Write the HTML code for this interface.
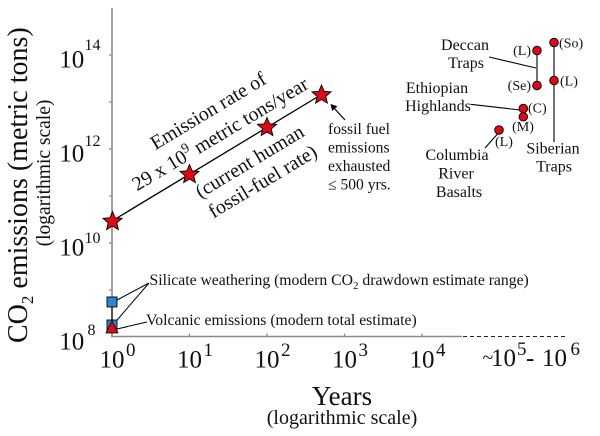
<!DOCTYPE html>
<html>
<head>
<meta charset="utf-8">
<style>
  html,body{margin:0;padding:0;background:#fff;}
  svg{display:block;}
  text{font-family:"Liberation Serif","DejaVu Serif",serif;fill:#111;}
</style>
</head>
<body>
<svg width="600" height="436" viewBox="0 0 600 436" xmlns="http://www.w3.org/2000/svg">
  <rect width="600" height="436" fill="#fff"/>

  <!-- Axes -->
  <line x1="112" y1="8" x2="112" y2="337.3" stroke="#8a8a8a" stroke-width="1.6"/>
  <line x1="111.2" y1="336.5" x2="462" y2="336.5" stroke="#8a8a8a" stroke-width="1.6"/>
  <line x1="463" y1="336.5" x2="567" y2="336.5" stroke="#222" stroke-width="1" stroke-dasharray="4 3"/>

  <!-- Y ticks -->
  <g stroke="#8a8a8a" stroke-width="1.2">
    <line x1="109" y1="55" x2="112" y2="55"/>
    <line x1="109" y1="102" x2="112" y2="102"/>
    <line x1="109" y1="149" x2="112" y2="149"/>
    <line x1="109" y1="196" x2="112" y2="196"/>
    <line x1="109" y1="243" x2="112" y2="243"/>
    <line x1="109" y1="290" x2="112" y2="290"/>
  </g>
  <!-- X ticks -->
  <g stroke="#8a8a8a" stroke-width="1.2">
    <line x1="189.5" y1="333.5" x2="189.5" y2="336"/>
    <line x1="267" y1="333.5" x2="267" y2="336"/>
    <line x1="344.5" y1="333.5" x2="344.5" y2="336"/>
    <line x1="422" y1="333.5" x2="422" y2="336"/>
  </g>

  <!-- Y tick labels -->
  <g font-size="25">
    <text x="59.3" y="67.5">10</text>
    <text x="59.3" y="161.5">10</text>
    <text x="59.3" y="255.5">10</text>
    <text x="59.3" y="349.5">10</text>
  </g>
  <g font-size="16">
    <text x="84.5" y="50">14</text>
    <text x="84.5" y="146">12</text>
    <text x="84.5" y="243">10</text>
    <text x="87.5" y="335">8</text>
  </g>

  <!-- X tick labels -->
  <g font-size="25">
    <text x="99.5" y="367.5">10</text>
    <text x="177" y="367.5">10</text>
    <text x="254.5" y="367.5">10</text>
    <text x="332" y="367.5">10</text>
    <text x="409.5" y="367.5">10</text>
    <text x="491" y="366">10</text>
    <text x="526" y="366">-</text>
    <text x="542" y="366">10</text>
  </g>
  <text font-size="20" x="482.5" y="364">~</text>
  <g font-size="19">
    <text x="126" y="356">0</text>
    <text x="203.5" y="356">1</text>
    <text x="281" y="356">2</text>
    <text x="358.5" y="356">3</text>
    <text x="436" y="356">4</text>
    <text x="517" y="355">5</text>
    <text x="570.5" y="355">6</text>
  </g>

  <!-- Axis titles -->
  <text font-size="28" transform="translate(27,343) rotate(-90)">CO<tspan font-size="17" dy="6">2</tspan><tspan dy="-6"> emissions (metric tons)</tspan></text>
  <text font-size="19.5" text-anchor="middle" transform="translate(50,173) rotate(-90)">(logarithmic scale)</text>
  <text font-size="27" x="342" y="405" text-anchor="middle">Years</text>
  <text font-size="20" x="342" y="424" text-anchor="middle">(logarithmic scale)</text>

  <!-- Fossil fuel line and stars -->
  <line x1="112" y1="221" x2="321.5" y2="94.5" stroke="#000" stroke-width="1.3"/>
  <g fill="#dc0a14" stroke="#000" stroke-width="0.9" stroke-linejoin="miter">
    <polygon transform="translate(112.5,221.5)" points="0,-10 2.645,-3.641 9.511,-3.09 4.28,1.391 5.878,8.09 0,4.5 -5.878,8.09 -4.28,1.391 -9.511,-3.09 -2.645,-3.641"/>
    <polygon transform="translate(189.5,174.5)" points="0,-10 2.645,-3.641 9.511,-3.09 4.28,1.391 5.878,8.09 0,4.5 -5.878,8.09 -4.28,1.391 -9.511,-3.09 -2.645,-3.641"/>
    <polygon transform="translate(267,127.5)" points="0,-10 2.645,-3.641 9.511,-3.09 4.28,1.391 5.878,8.09 0,4.5 -5.878,8.09 -4.28,1.391 -9.511,-3.09 -2.645,-3.641"/>
    <polygon transform="translate(321.5,95)" points="0,-10 2.645,-3.641 9.511,-3.09 4.28,1.391 5.878,8.09 0,4.5 -5.878,8.09 -4.28,1.391 -9.511,-3.09 -2.645,-3.641"/>
  </g>

  <!-- Rotated annotation -->
  <g font-size="20" text-anchor="middle">
    <text transform="translate(211.5,116.5) rotate(-31)">Emission rate of</text>
    <text transform="translate(223.5,139.5) rotate(-31)">29 x 10<tspan font-size="14" dy="-8">9</tspan><tspan dy="8"> metric tons/year</tspan></text>
    <text transform="translate(253,167) rotate(-31)">(current human</text>
    <text transform="translate(266,187) rotate(-31)">fossil-fuel rate)</text>
  </g>

  <!-- Fossil fuel exhausted arrow -->
  <line x1="345" y1="120" x2="334.6" y2="108.6" stroke="#000" stroke-width="1.2"/>
  <polygon points="330.5,104 337.4,106.3 332.2,110.9" fill="#000"/>
  <g font-size="15.6">
    <text x="328" y="134">fossil fuel</text>
    <text x="328" y="152.5">emissions</text>
    <text x="328" y="171">exhausted</text>
    <text x="328" y="189.5">≤ 500 yrs.</text>
  </g>

  <!-- Silicate / volcanic -->
  <line x1="112" y1="302" x2="112" y2="325" stroke="#555" stroke-width="2"/>
  <g stroke="#000" stroke-width="1">
    <line x1="149" y1="283" x2="117" y2="300"/>
    <line x1="149" y1="283" x2="114.5" y2="323"/>
    <line x1="147" y1="322" x2="117" y2="329"/>
  </g>
  <rect x="107" y="297" width="10" height="10" fill="#2b86cf" stroke="#000" stroke-width="0.9"/>
  <rect x="107" y="320" width="10" height="10" fill="#2b86cf" stroke="#000" stroke-width="0.9"/>
  <polygon points="112,320.5 106,333 118,333" fill="#dc0a14" stroke="#000" stroke-width="0.8"/>
  <text font-size="15.7" x="149.5" y="285">Silicate weathering (modern CO<tspan font-size="11" dy="4">2</tspan><tspan dy="-4"> drawdown estimate range)</tspan></text>
  <text font-size="15.7" x="146" y="325">Volcanic emissions (modern total estimate)</text>

  <!-- Large igneous provinces -->
  <g stroke="#000" stroke-width="1.1">
    <line x1="537" y1="50" x2="537" y2="85.5"/>
    <line x1="554" y1="42.5" x2="554" y2="142"/>
    <line x1="489" y1="57" x2="536" y2="68"/>
    <line x1="470.5" y1="104.3" x2="520" y2="110"/>
    <line x1="497.5" y1="134" x2="485" y2="148"/>
  </g>
  <g fill="#dc0a14" stroke="#000" stroke-width="0.9">
    <circle cx="537" cy="50.5" r="4.3"/>
    <circle cx="537" cy="85.5" r="4.3"/>
    <circle cx="554" cy="42.5" r="4.3"/>
    <circle cx="554" cy="80.5" r="4.3"/>
    <circle cx="523.3" cy="108.5" r="4.3"/>
    <circle cx="523.3" cy="116.8" r="4.3"/>
    <circle cx="499" cy="130" r="4.3"/>
  </g>
  <g font-size="14">
    <text x="531" y="55" text-anchor="end">(L)</text>
    <text x="531" y="90" text-anchor="end">(Se)</text>
    <text x="559" y="47.5">(So)</text>
    <text x="560" y="85.5">(L)</text>
    <text x="528" y="112.5">(C)</text>
    <text x="523" y="131" text-anchor="middle">(M)</text>
    <text x="495" y="146">(L)</text>
  </g>
  <g font-size="16" text-anchor="middle">
    <text x="465" y="50">Deccan</text>
    <text x="466" y="68">Traps</text>
    <text x="437" y="93">Ethiopian</text>
    <text x="438" y="111">Highlands</text>
    <text x="457" y="160">Columbia</text>
    <text x="456" y="178.5">River</text>
    <text x="459" y="197">Basalts</text>
    <text x="553" y="153.5">Siberian</text>
    <text x="554" y="171.5">Traps</text>
  </g>
</svg>
</body>
</html>
